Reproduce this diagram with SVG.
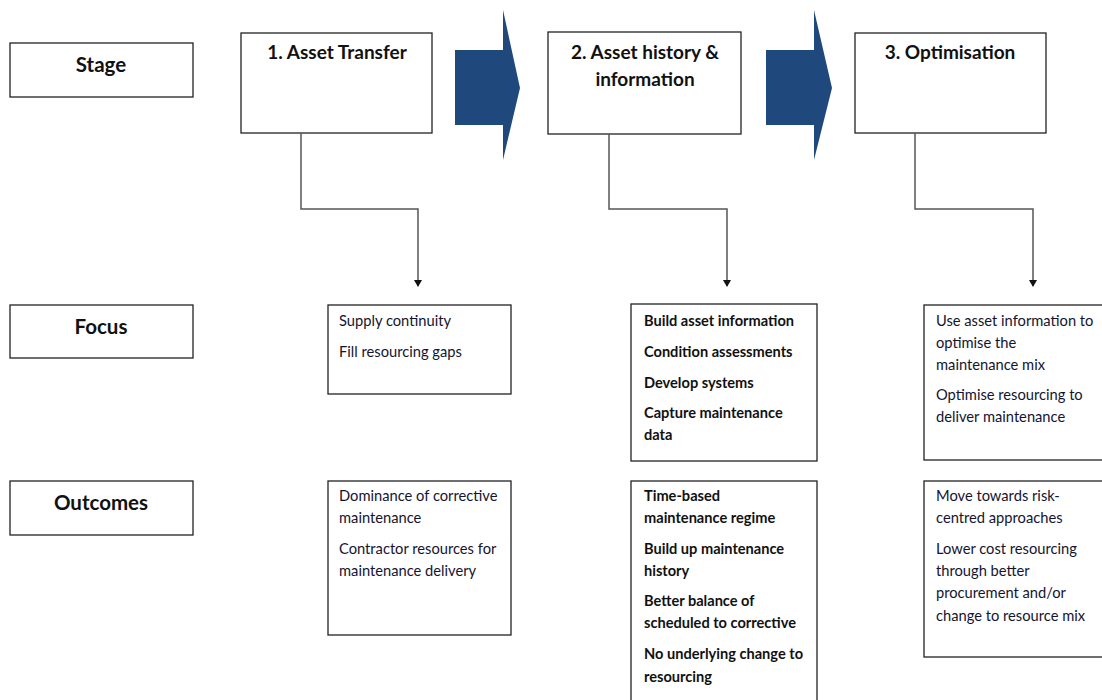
<svg xmlns="http://www.w3.org/2000/svg" width="1102" height="700" viewBox="0 0 1102 700">
<style>
.box{fill:#fff;stroke:#222;stroke-width:1.3}
.lbl{font-family:Lato,"Open Sans",sans-serif;font-weight:bold;font-size:20.5px;fill:#111;text-anchor:middle}
.ttl{font-family:Lato,"Open Sans",sans-serif;font-weight:bold;font-size:19px;fill:#111;text-anchor:middle}
.t{font-family:Lato,"Open Sans",sans-serif;font-size:14.7px;fill:#141430}
.b{font-family:Lato,"Open Sans",sans-serif;font-size:14.6px;font-weight:bold;fill:#111}
.con{fill:none;stroke:#555;stroke-width:1.5}
.bigarrow{fill:#1F497D}
</style>
<defs>
<marker id="ah" markerWidth="8" markerHeight="8" refX="6" refY="4" orient="auto" markerUnits="userSpaceOnUse">
<path d="M0,0 L7,4 L0,8 Z" fill="#111"/>
</marker>
</defs>

<g id="stage-label"><rect class="box" x="10" y="43" width="183" height="54"/><text class="lbl" x="101" y="72">Stage</text></g>
<g id="focus-label"><rect class="box" x="10" y="305" width="183" height="53"/><text class="lbl" x="101" y="334">Focus</text></g>
<g id="outcomes-label"><rect class="box" x="10" y="481" width="183" height="54"/><text class="lbl" x="101" y="510">Outcomes</text></g>

<g id="stage1"><rect class="box" x="241" y="33" width="191" height="100"/><text class="ttl" x="337" y="59">1. Asset Transfer</text></g>
<g id="stage2"><rect class="box" x="548" y="32" width="193" height="102"/><text class="ttl" x="645" y="59">2. Asset history &amp;</text><text class="ttl" x="645" y="86">information</text></g>
<g id="stage3"><rect class="box" x="855" y="33" width="191" height="100"/><text class="ttl" x="950" y="59">3. Optimisation</text></g>

<g id="arrow1"><path class="bigarrow" d="M455,50 L503,50 L503,10 L520,88 L503,160 L503,125 L455,125 Z"/></g>
<g id="arrow2"><path class="bigarrow" d="M766,50 L814,50 L814,10 L832,88 L814,160 L814,125 L766,125 Z"/></g>

<g id="connectors">
<path class="con" d="M301,133 V209 H418 V286" marker-end="url(#ah)"/>
<path class="con" d="M609,134 V209 H727 V286" marker-end="url(#ah)"/>
<path class="con" d="M915,133 V209 H1033 V286" marker-end="url(#ah)"/>
</g>

<g id="focus1"><rect class="box" x="328" y="305" width="183" height="89"/>
<text class="t" x="339" y="326">Supply continuity</text>
<text class="t" x="339" y="357">Fill resourcing gaps</text></g>

<g id="focus2"><rect class="box" x="631" y="304" width="186" height="157"/>
<text class="b" x="644" y="326">Build asset information</text>
<text class="b" x="644" y="357">Condition assessments</text>
<text class="b" x="644" y="388">Develop systems</text>
<text class="b" x="644" y="418">Capture maintenance</text>
<text class="b" x="644" y="440">data</text></g>

<g id="focus3"><rect class="box" x="924" y="305" width="190" height="155"/>
<text class="t" x="936" y="326">Use asset information to</text>
<text class="t" x="936" y="348">optimise the</text>
<text class="t" x="936" y="370">maintenance mix</text>
<text class="t" x="936" y="400">Optimise resourcing to</text>
<text class="t" x="936" y="422">deliver maintenance</text></g>

<g id="outcome1"><rect class="box" x="328" y="481" width="183" height="154"/>
<text class="t" x="339" y="501">Dominance of corrective</text>
<text class="t" x="339" y="523">maintenance</text>
<text class="t" x="339" y="554">Contractor resources for</text>
<text class="t" x="339" y="576">maintenance delivery</text></g>

<g id="outcome2"><rect class="box" x="631" y="481" width="186" height="230"/>
<text class="b" x="644" y="501">Time-based</text>
<text class="b" x="644" y="523">maintenance regime</text>
<text class="b" x="644" y="554">Build up maintenance</text>
<text class="b" x="644" y="576">history</text>
<text class="b" x="644" y="606">Better balance of</text>
<text class="b" x="644" y="628">scheduled to corrective</text>
<text class="b" x="644" y="659">No underlying change to</text>
<text class="b" x="644" y="682">resourcing</text></g>

<g id="outcome3"><rect class="box" x="924" y="481" width="190" height="176"/>
<text class="t" x="936" y="501">Move towards risk-</text>
<text class="t" x="936" y="523">centred approaches</text>
<text class="t" x="936" y="554">Lower cost resourcing</text>
<text class="t" x="936" y="576">through better</text>
<text class="t" x="936" y="598">procurement and/or</text>
<text class="t" x="936" y="621">change to resource mix</text></g>
</svg>
